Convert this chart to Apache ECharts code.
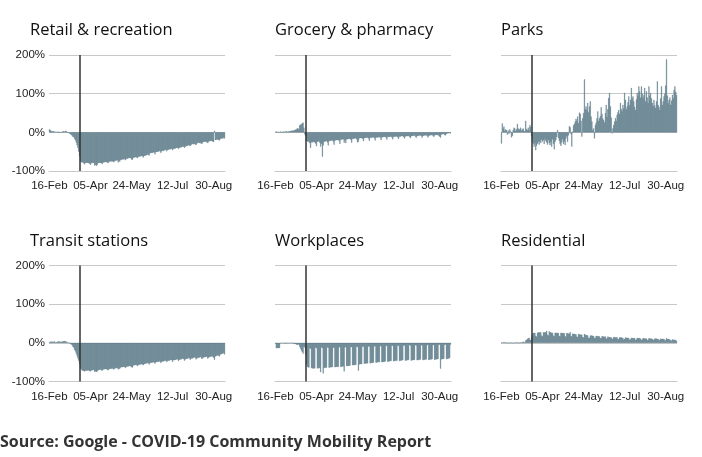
<!DOCTYPE html>
<html><head><meta charset="utf-8">
<script src="https://cdn.jsdelivr.net/npm/echarts@6/dist/echarts.min.js"></script>
<style>html,body{margin:0;padding:0;background:#fff}#c{width:702px;height:457px}</style>
</head><body><div id="c"></div>
<script>
// Categories: daily, 16-Feb-2020 .. 12-Sep-2020 (210 days)
const MONTHS = ['Jan','Feb','Mar','Apr','May','Jun','Jul','Aug','Sep','Oct','Nov','Dec'];
const dates = [];
for (let d = new Date(Date.UTC(2020,1,16)); dates.length < 210; d = new Date(d.getTime() + 86400000)) {
  dates.push(String(d.getUTCDate()).padStart(2,'0') + '-' + MONTHS[d.getUTCMonth()]);
}
const lockdown = '23-Mar';
const yTicks = [-100, 0, 100, 200];

const retail = [
 8,6,4,3,2,3,2, 1,0,1,2,0,-2,1, 0,1,2,3,2,3,4, 0,-1,-2,-3,-5,-7,-8,
 -12,-12,-17,-21,-27,-33,-40, -50,-62,-75,-77,-78,-78,-80, -83,-79,-79,-79,-79,-80,-81,
 -84,-80,-79,-79,-79,-86,-84, -87,-84,-80,-79,-79,-79,-80, -82,-78,-78,-77,-77,-77,-78,
 -80,-76,-76,-75,-75,-75,-76, -77,-74,-73,-73,-72,-78,-74, -76,-71,-71,-70,-70,-69,-70,
 -72,-68,-68,-67,-67,-66,-67, -70,-71,-66,-65,-65,-64,-65, -67,-63,-63,-62,-62,-61,-62,
 -65,-61,-60,-60,-59,-58,-58, -60,-54,-54,-53,-53,-52,-52, -57,-51,-51,-50,-50,-48,-49,
 -53,-49,-48,-48,-47,-46,-44, -49,-46,-45,-44,-44,-43,-42, -46,-43,-42,-42,-41,-40,-40,
 -43,-40,-39,-39,-38,-37,-37, -40,-37,-36,-35,-35,-33,-34, -36,-33,-30,-30,-31,-30,-31,
 -33,-29,-27,-27,-28,-27,-29, -30,-26,-25,-24,-25,-24,-26, -28,-24,-23,-22,-23,-22,-24,
 -25,4,-20,-19,-19,-18,-20, -21,-17,-16,-16,-16,-14,-16
];
const grocery = [
 1,2,1,1,1,0,2, 1,1,1,2,1,2,3, 1,2,2,3,3,4,5, 3,5,6,7,8,10,10,
 8,18,20,21,24,25,12, -5,-10,-22,-24,-23,-25,-28, -40,-26,-26,-25,-25,-26,-29,
 -36,-24,-24,-23,-27,-37,-30, -63,-34,-25,-24,-23,-23,-26, -34,-23,-22,-22,-21,-21,-24,
 -32,-21,-21,-20,-20,-20,-22, -30,-19,-19,-18,-18,-27,-20, -28,-18,-18,-17,-17,-17,-19,
 -27,-17,-17,-16,-16,-15,-18, -26,-24,-16,-15,-15,-15,-17, -23,-15,-15,-14,-14,-14,-16,
 -22,-14,-14,-14,-13,-13,-15, -21,-14,-13,-13,-13,-12,-14, -20,-13,-13,-12,-12,-11,-14,
 -19,-12,-12,-12,-11,-11,-13, -18,-12,-11,-11,-11,-10,-13, -17,-11,-11,-10,-10,-10,-12,
 -16,-11,-10,-10,-10,-9,-12, -15,-10,-10,-9,-9,-8,-11, -14,-10,-9,-9,-8,-8,-10,
 -14,-9,-9,-8,-8,-7,-10, -13,-9,-8,-8,-7,-7,-9, -12,-8,-7,-7,-7,-6,-9,
 -11,-14,-6,-5,-5,-4,-7, -8,-4,-3,-3,-2,-2,-3
];
const parks = [
 -29,23,10,15,4,8,6, -6,5,-4,8,3,-13,-9, 6,12,10,4,8,22,10, 6,9,12,5,8,10,4,
 2,30,9,6,12,5,19, 14,-10,-24,-30,-37,-28,-46, -35,-30,-25,-32,-22,-28,-19,
 -24,-20,-30,-17,-22,-26,-32, -20,-28,-33,-25,-37,-18,-30, -44,-25,-20,-12,6,-15,-22,
 -30,-35,-26,-18,-30,-24,-33, -16,-10,-25,-8,16,13,-5, -37,2,18,22,28,35,30,
 41,24,51,48,30,-11,37, 50,137,60,67,58,76,52, 67,80,41,28,6,10,-16,
 19,25,36,54,30,37,42, 65,48,36,32,26,50,71, 40,60,89,102,67,38,-3,
 10,19,28,37,30,45,52, 58,48,76,60,55,71,62, 102,84,60,67,78,93,70,
 84,115,88,93,80,66,58, 85,102,95,119,106,90,119, 100,89,96,115,80,106,90,
 76,119,95,102,88,76,68, 84,70,63,80,132,71,66, 58,88,119,71,80,93,100,
 121,189,95,75,84,90,71, 82,97,88,110,119,105,97
];
const transit = [
 2,3,2,3,3,2,4, 1,2,2,3,4,3,3, 2,3,4,4,5,4,3, 2,1,0,0,-2,-4,-6,
 -10,-12,-18,-22,-28,-34,-40, -46,-55,-66,-69,-71,-72,-73, -74,-72,-72,-72,-71,-71,-73,
 -74,-71,-71,-70,-70,-75,-74, -75,-74,-71,-70,-70,-69,-71, -72,-69,-69,-68,-68,-68,-70,
 -71,-68,-68,-67,-67,-66,-68, -69,-66,-66,-65,-65,-69,-67, -67,-64,-63,-63,-62,-62,-63,
 -65,-62,-61,-61,-60,-60,-61, -63,-64,-59,-58,-58,-57,-58, -60,-57,-57,-56,-56,-55,-56,
 -58,-55,-54,-54,-53,-52,-53, -56,-52,-52,-51,-51,-50,-51, -54,-50,-50,-49,-49,-47,-49,
 -52,-49,-48,-48,-47,-46,-46, -50,-47,-46,-46,-45,-44,-45, -49,-45,-45,-44,-44,-42,-43,
 -47,-44,-43,-43,-42,-40,-42, -46,-43,-42,-41,-41,-39,-40, -44,-41,-40,-40,-39,-37,-39,
 -43,-40,-39,-38,-38,-36,-38, -42,-39,-38,-37,-37,-35,-37, -41,-38,-37,-36,-36,-34,-36,
 -39,-44,-35,-34,-33,-32,-34, -35,-30,-29,-28,-28,-26,-30
];
const workplaces = [
 -2,-14,-14,-13,-14,-13,-1, -1,-1,-1,-1,-1,-2,0, 0,-1,-1,-1,-1,-1,0, -1,-2,-3,-3,-4,-6,-3,
 -5,-10,-15,-20,-24,-28,-10, -12,-30,-55,-62,-63,-64,-14, -15,-65,-66,-66,-66,-66,-12,
 -14,-66,-66,-65,-65,-76,-12, -14,-79,-65,-65,-64,-64,-12, -13,-64,-64,-63,-63,-63,-12,
 -13,-63,-63,-62,-62,-62,-11, -12,-62,-62,-61,-61,-74,-11, -12,-60,-60,-60,-59,-59,-11,
 -11,-58,-58,-57,-57,-57,-10, -11,-72,-56,-55,-55,-55,-10, -10,-54,-54,-53,-53,-53,-9,
 -10,-53,-52,-52,-52,-51,-9, -9,-51,-51,-50,-50,-50,-8, -9,-50,-50,-49,-49,-48,-8,
 -8,-49,-48,-48,-47,-47,-7, -8,-48,-47,-47,-46,-46,-7, -8,-47,-46,-46,-45,-45,-7,
 -7,-46,-46,-45,-45,-44,-6, -7,-46,-45,-45,-44,-44,-6, -7,-45,-45,-44,-44,-43,-6,
 -7,-45,-44,-44,-43,-43,-6, -6,-44,-44,-43,-43,-42,-6, -6,-44,-43,-43,-42,-42,-5,
 -5,-67,-43,-42,-42,-41,-5, -5,-42,-41,-41,-40,-39,-5
];
const residential = [
 1,0,1,2,1,1,0, 0,0,1,0,0,1,-1, 0,0,0,1,1,1,0, 0,1,1,1,2,3,1,
 2,6,8,10,12,13,8, 7,15,23,25,26,26,18, 16,26,27,27,27,27,19,
 17,27,27,27,27,31,21, 19,30,27,27,26,26,19, 17,26,26,26,26,25,18,
 17,26,26,25,25,25,17, 16,25,25,24,24,28,18, 16,24,23,23,22,22,16,
 15,23,22,21,21,21,15, 14,23,21,20,20,19,13, 13,19,19,19,18,18,13,
 13,18,18,17,17,17,12, 12,17,17,16,16,16,11, 11,16,15,15,14,14,10,
 11,15,15,14,14,14,9, 10,14,14,14,13,13,8, 10,14,13,13,13,12,8,
 9,13,13,12,12,12,8, 9,13,12,12,12,11,7, 9,12,12,11,11,11,7,
 8,12,11,11,11,10,7, 8,11,11,11,10,10,6, 8,11,10,10,10,10,6,
 7,12,10,10,9,9,6, 6,9,8,8,8,7,5
];

const panels = [
  {name:'Retail & recreation', data:retail},
  {name:'Grocery & pharmacy', data:grocery},
  {name:'Parks', data:parks},
  {name:'Transit stations', data:transit},
  {name:'Workplaces', data:workplaces},
  {name:'Residential', data:residential}
];
const lefts = [49, 275, 501];
const tops = [55, 265.5];
const titleLefts = [30, 275, 501];
const BAR = '#5f7e8c';

const grids = [], xAxes = [], yAxes = [], series = [], titles = [];
panels.forEach((p, i) => {
  const col = i % 3, row = Math.floor(i / 3);
  grids.push({left: lefts[col], top: tops[row], width: 176, height: 116});
  titles.push({text: p.name, left: titleLefts[col], top: tops[row] - 33, padding: 0,
    textStyle: {fontFamily: '"Open Sans", sans-serif', fontSize: 16.5, fontWeight: 'normal', color: '#111'}});
  xAxes.push({type: 'category', gridIndex: i, data: dates, boundaryGap: true,
    axisLine: {onZero: false, lineStyle: {color: '#c8c8c8'}},
    axisTick: {alignWithLabel: true, interval: 48, length: 5, lineStyle: {color: '#c8c8c8'}},
    axisLabel: {interval: 48, color: '#222', fontSize: 11.5, fontFamily: '"Liberation Sans", Arial, sans-serif', margin: 9},
    splitLine: {show: false}});
  yAxes.push({type: 'value', gridIndex: i, min: yTicks[0], max: yTicks[yTicks.length-1], interval: 100,
    axisLine: {show: false}, axisTick: {show: false},
    splitLine: {lineStyle: {color: '#c8c8c8', width: 1}},
    axisLabel: {show: col === 0, formatter: '{value}%', color: '#222', fontSize: 11.5,
      fontFamily: '"Liberation Sans", Arial, sans-serif', margin: 4}});
  series.push({type: 'bar', xAxisIndex: i, yAxisIndex: i, data: p.data,
    itemStyle: {color: BAR, borderColor: BAR, borderWidth: 0.3}, barCategoryGap: '0%',
    markLine: {silent: true, symbol: 'none', label: {show: false},
      lineStyle: {color: '#333', width: 1.5, type: 'solid'},
      data: [{xAxis: lockdown}]}});
});
titles.push({text: 'Source: Google - COVID-19 Community Mobility Report', left: 0, top: 434.5, padding: 0,
  textStyle: {fontFamily: '"Open Sans", sans-serif', fontSize: 16, fontWeight: 'bold', color: '#333'}});

const chart = echarts.init(document.getElementById('c'), null, {renderer: 'canvas'});
chart.setOption({animation: false, backgroundColor: '#fff', title: titles,
  grid: grids, xAxis: xAxes, yAxis: yAxes, series: series});
</script></body></html>
